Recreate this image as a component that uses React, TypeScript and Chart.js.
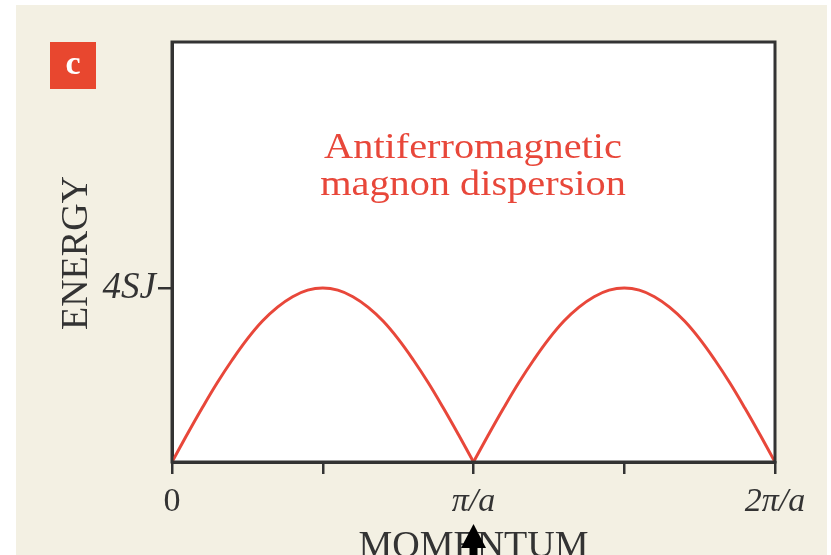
import React, { useEffect, useRef } from "react";
import { Chart, registerables } from "chart.js";

Chart.register(...registerables);

// Momentum in units of pi/a, energy in units of SJ; one branch per zone half
const momentumA: number[] = [
  0, 0.05, 0.1, 0.15, 0.2, 0.25, 0.3, 0.35, 0.4, 0.45, 0.5,
  0.55, 0.6, 0.65, 0.7, 0.75, 0.8, 0.85, 0.9, 0.95, 1,
];
const energyA: number[] = [
  0, 0.63, 1.24, 1.82, 2.35, 2.83, 3.24, 3.56, 3.8, 3.95, 4,
  3.95, 3.8, 3.56, 3.24, 2.83, 2.35, 1.82, 1.24, 0.63, 0,
];
const momentumB: number[] = [
  1, 1.05, 1.1, 1.15, 1.2, 1.25, 1.3, 1.35, 1.4, 1.45, 1.5,
  1.55, 1.6, 1.65, 1.7, 1.75, 1.8, 1.85, 1.9, 1.95, 2,
];
const energyB: number[] = [
  0, 0.63, 1.24, 1.82, 2.35, 2.83, 3.24, 3.56, 3.8, 3.95, 4,
  3.95, 3.8, 3.56, 3.24, 2.83, 2.35, 1.82, 1.24, 0.63, 0,
];

const xTickValues: number[] = [0, 0.5, 1, 1.5, 2];
const xTickLabels: string[] = ["0", "", "π/a", "", "2π/a"];
const yTickValues: number[] = [4];
const yTickLabels: string[] = ["4SJ"];

const titleLines: string[] = ["Antiferromagnetic", "magnon dispersion"];
const yTitle = "ENERGY";
const xTitle = "MOMENTUM";
const panelLetter = "c";

const SERIF = '"Liberation Serif", "DejaVu Serif", serif';
const RED = "#e8473a";
const INK = "#333333";
const BEIGE = "#f3f0e3";

const annotations = {
  id: "annotations",
  beforeDraw(chart: any) {
    const { ctx, chartArea: a } = chart;
    ctx.save();
    ctx.fillStyle = "#ffffff";
    ctx.fillRect(a.left, a.top, a.right - a.left, a.bottom - a.top);
    ctx.restore();
  },
  afterDraw(chart: any) {
    const { ctx, chartArea: a } = chart;
    const xs = chart.scales.x;
    ctx.save();

    // plot frame
    ctx.strokeStyle = INK;
    ctx.lineWidth = 3;
    ctx.strokeRect(a.left, a.top, a.right - a.left, a.bottom - a.top);

    // panel letter box
    ctx.fillStyle = "#e8472f";
    ctx.fillRect(50, 42, 46, 47);
    ctx.fillStyle = "#ffffff";
    ctx.font = `bold 34px ${SERIF}`;
    ctx.textAlign = "center";
    ctx.textBaseline = "alphabetic";
    ctx.fillText(panelLetter, 73, 74);

    // curve caption
    ctx.fillStyle = RED;
    ctx.font = `36px ${SERIF}`;
    const baselines = [158, 195];
    titleLines.forEach((line, i) => {
      ctx.save();
      ctx.translate(473, baselines[i]);
      ctx.scale(1.12, 1);
      ctx.fillText(line, 0, 0);
      ctx.restore();
    });

    // axis titles
    ctx.fillStyle = INK;
    ctx.font = `38px ${SERIF}`;
    ctx.save();
    ctx.translate(87, 253);
    ctx.rotate(-Math.PI / 2);
    ctx.fillText(yTitle, 0, 0);
    ctx.restore();

    const cx = xs.getPixelForValue(1);
    ctx.fillText(xTitle, cx, 557);

    // arrow marking the zone boundary
    ctx.fillStyle = "#000000";
    ctx.beginPath();
    ctx.moveTo(cx, 524);
    ctx.lineTo(cx + 12.5, 548);
    ctx.lineTo(cx - 12.5, 548);
    ctx.closePath();
    ctx.fill();
    ctx.fillRect(cx - 4, 546, 8, 12);

    ctx.restore();
  },
};

const branch = (xs: number[], ys: number[]) => ({
  data: xs.map((m, i) => ({ x: m, y: ys[i] })),
  borderColor: RED,
  borderWidth: 3,
  pointRadius: 0,
  tension: 0.4,
  fill: false,
});

export default function App() {
  const canvasRef = useRef<HTMLCanvasElement | null>(null);

  useEffect(() => {
    if (!canvasRef.current) return;
    const chart = new Chart(canvasRef.current, {
      type: "line",
      data: {
        datasets: [branch(momentumA, energyA), branch(momentumB, energyB)],
      },
      options: {
        animation: false,
        responsive: false,
        layout: { padding: { left: 0, top: 42, right: 56, bottom: 0 } },
        plugins: {
          legend: { display: false },
          tooltip: { enabled: false },
          title: { display: false },
        },
        scales: {
          x: {
            type: "linear",
            min: 0,
            max: 2,
            afterBuildTicks: (scale: any) => {
              scale.ticks = xTickValues.map((v) => ({ value: v }));
            },
            afterFit: (scale: any) => {
              scale.height = 93;
            },
            ticks: {
              autoSkip: false,
              maxRotation: 0,
              padding: 8,
              color: INK,
              font: (ctx: any) => ({
                family: SERIF,
                size: 34,
                style: ctx.tick && ctx.tick.value === 0 ? "normal" : "italic",
              }),
              callback: (value: any) => {
                const i = xTickValues.indexOf(Number(value));
                return i >= 0 ? xTickLabels[i] : "";
              },
            },
            grid: {
              display: true,
              drawOnChartArea: false,
              drawTicks: true,
              tickLength: 12,
              color: INK,
              lineWidth: 2.5,
            },
            border: { display: true, color: INK, width: 3 },
          },
          y: {
            type: "linear",
            min: 0,
            max: 9.655,
            afterBuildTicks: (scale: any) => {
              scale.ticks = yTickValues.map((v) => ({ value: v }));
            },
            afterFit: (scale: any) => {
              scale.width = 172;
            },
            ticks: {
              autoSkip: false,
              padding: 2,
              color: INK,
              font: { family: SERIF, size: 37, style: "italic" },
              callback: (value: any) => {
                const i = yTickValues.indexOf(Number(value));
                return i >= 0 ? yTickLabels[i] : "";
              },
            },
            grid: {
              display: true,
              drawOnChartArea: false,
              drawTicks: true,
              tickLength: 14,
              color: INK,
              lineWidth: 2.5,
            },
            border: { display: true, color: INK, width: 3 },
          },
        },
      },
      plugins: [annotations],
    });
    return () => chart.destroy();
  }, []);

  return (
    <div
      style={{
        position: "absolute",
        left: 0,
        top: 0,
        width: 831,
        height: 555,
        background: "#ffffff",
        overflow: "hidden",
      }}
    >
      <div
        style={{
          position: "absolute",
          left: 16,
          top: 5,
          width: 811,
          height: 550,
          background: BEIGE,
        }}
      />
      <canvas
        ref={canvasRef}
        width={831}
        height={555}
        style={{ position: "absolute", left: 0, top: 0, width: 831, height: 555 }}
      />
    </div>
  );
}
